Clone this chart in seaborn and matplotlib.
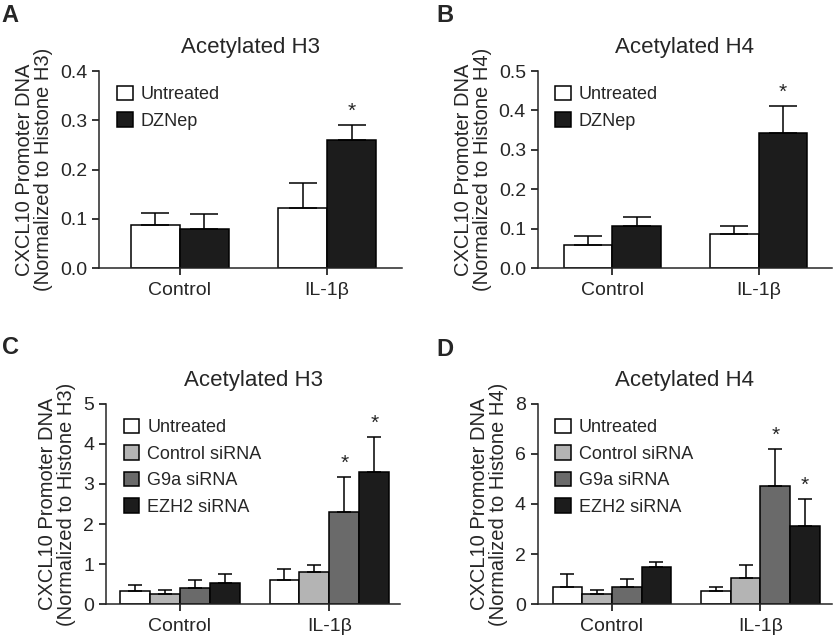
import numpy as np
import pandas as pd
import matplotlib
matplotlib.use("Agg")
import matplotlib.pyplot as plt
from matplotlib.patches import Patch
import seaborn as sns

# categories
groups = ["Control", "IL-1\u03b2"]
treat_ab = ["Untreated", "DZNep"]
treat_cd = ["Untreated", "Control siRNA", "G9a siRNA", "EZH2 siRNA"]

# panel A: acetylated H3, DZNep (mean, upper error bar end)
a_mean = {"Untreated": [0.087, 0.123], "DZNep": [0.080, 0.261]}
a_top = {"Untreated": [0.112, 0.172], "DZNep": [0.110, 0.290]}

# panel B: acetylated H4, DZNep
b_mean = {"Untreated": [0.060, 0.086], "DZNep": [0.107, 0.343]}
b_top = {"Untreated": [0.081, 0.106], "DZNep": [0.131, 0.412]}

# panel C: acetylated H3, siRNA
c_mean = {"Untreated": [0.34, 0.61], "Control siRNA": [0.26, 0.80],
          "G9a siRNA": [0.41, 2.31], "EZH2 siRNA": [0.53, 3.31]}
c_top = {"Untreated": [0.49, 0.88], "Control siRNA": [0.36, 0.98],
         "G9a siRNA": [0.61, 3.17], "EZH2 siRNA": [0.75, 4.16]}

# panel D: acetylated H4, siRNA
d_mean = {"Untreated": [0.70, 0.54], "Control siRNA": [0.40, 1.06],
          "G9a siRNA": [0.70, 4.70], "EZH2 siRNA": [1.47, 3.13]}
d_top = {"Untreated": [1.19, 0.70], "Control siRNA": [0.55, 1.57],
         "G9a siRNA": [1.02, 6.21], "EZH2 siRNA": [1.70, 4.20]}

# significance stars: (treatment, group)
a_star = [("DZNep", "IL-1\u03b2")]
b_star = [("DZNep", "IL-1\u03b2")]
c_star = [("G9a siRNA", "IL-1\u03b2"), ("EZH2 siRNA", "IL-1\u03b2")]
d_star = [("G9a siRNA", "IL-1\u03b2"), ("EZH2 siRNA", "IL-1\u03b2")]

colors_ab = ["#ffffff", "#1c1c1c"]
colors_cd = ["#ffffff", "#b4b4b4", "#6a6a6a", "#1c1c1c"]

sns.set_style("ticks")
plt.rcParams["font.family"] = ["Liberation Sans", "DejaVu Sans"]
plt.rcParams["axes.linewidth"] = 1.1


def to_frame(means, treatments):
    rows = []
    for t in treatments:
        for g, v in zip(groups, means[t]):
            rows.append({"group": g, "treatment": t, "value": v})
    return pd.DataFrame(rows)


def draw_panel(ax, means, tops, treatments, colors, stars, title, hist,
               ylim, yticks, fmt, width, xlim, capsize):
    df = to_frame(means, treatments)
    sns.barplot(data=df, x="group", y="value", hue="treatment",
                hue_order=treatments, order=groups, palette=colors,
                edgecolor="black", linewidth=1.1, width=width, gap=0,
                errorbar=None, legend=False, ax=ax)
    # upward-only error bars and stars
    for t, cont in zip(treatments, ax.containers):
        for g, bar, top in zip(groups, cont, tops[t]):
            xc = bar.get_x() + bar.get_width() / 2
            h = bar.get_height()
            ax.errorbar([xc], [h], yerr=[[0], [top - h]], fmt="none",
                        ecolor="black", elinewidth=1.1, capsize=capsize,
                        capthick=1.1, zorder=1)
            if (t, g) in stars:
                ax.annotate("*", (xc, top), xytext=(0, 3),
                            textcoords="offset points", ha="center",
                            va="bottom", fontsize=15)
    ax.set_xlim(*xlim)
    ax.set_ylim(*ylim)
    ax.set_yticks(yticks)
    ax.set_yticklabels([fmt.format(v) for v in yticks])
    ax.set_xlabel("")
    ax.set_ylabel("CXCL10 Promoter DNA\n(Normalized to Histone %s)" % hist,
                  fontsize=14.5, labelpad=5, linespacing=1.0)
    ax.set_title(title, fontsize=16, pad=13)
    ax.tick_params(axis="both", labelsize=14, length=5, width=1.1,
                   color="black")
    ax.tick_params(axis="x", pad=5)
    sns.despine(ax=ax)
    handles = [Patch(facecolor=c, edgecolor="black", linewidth=1.1, label=t)
               for t, c in zip(treatments, colors)]
    ax.legend(handles=handles, loc="upper left", bbox_to_anchor=(0.06, 0.925),
              frameon=False, fontsize=13, borderpad=0, borderaxespad=0,
              handlelength=0.85, handleheight=0.85, handletextpad=0.45,
              labelspacing=0.5)


fig = plt.figure(figsize=(8.35, 6.4), dpi=100)
ax_a = fig.add_axes([0.1186, 0.581, 0.3629, 0.308])
ax_b = fig.add_axes([0.644, 0.581, 0.352, 0.308])
ax_c = fig.add_axes([0.127, 0.056, 0.352, 0.313])
ax_d = fig.add_axes([0.644, 0.056, 0.352, 0.313])

draw_panel(ax_a, a_mean, a_top, treat_ab, colors_ab, a_star, "Acetylated H3",
           "H3", (0, 0.4), [0, 0.1, 0.2, 0.3, 0.4], "{:.1f}", 0.667,
           (-0.55, 1.51), 10)
draw_panel(ax_b, b_mean, b_top, treat_ab, colors_ab, b_star, "Acetylated H4",
           "H4", (0, 0.5), [0, 0.1, 0.2, 0.3, 0.4, 0.5], "{:.1f}", 0.667,
           (-0.51, 1.5), 10)
draw_panel(ax_c, c_mean, c_top, treat_cd, colors_cd, c_star, "Acetylated H3",
           "H3", (0, 5), [0, 1, 2, 3, 4, 5], "{:.0f}", 0.8,
           (-0.49, 1.47), 5)
draw_panel(ax_d, d_mean, d_top, treat_cd, colors_cd, d_star, "Acetylated H4",
           "H4", (0, 8), [0, 2, 4, 6, 8], "{:.0f}", 0.8,
           (-0.5, 1.48), 5)

for lbl, x, y in [("A", 0.002, 0.965), ("B", 0.523, 0.965),
                  ("C", 0.002, 0.447), ("D", 0.523, 0.444)]:
    fig.text(x, y, lbl, fontsize=17, fontweight="bold", va="baseline")

fig.savefig("out.png", dpi=100)
